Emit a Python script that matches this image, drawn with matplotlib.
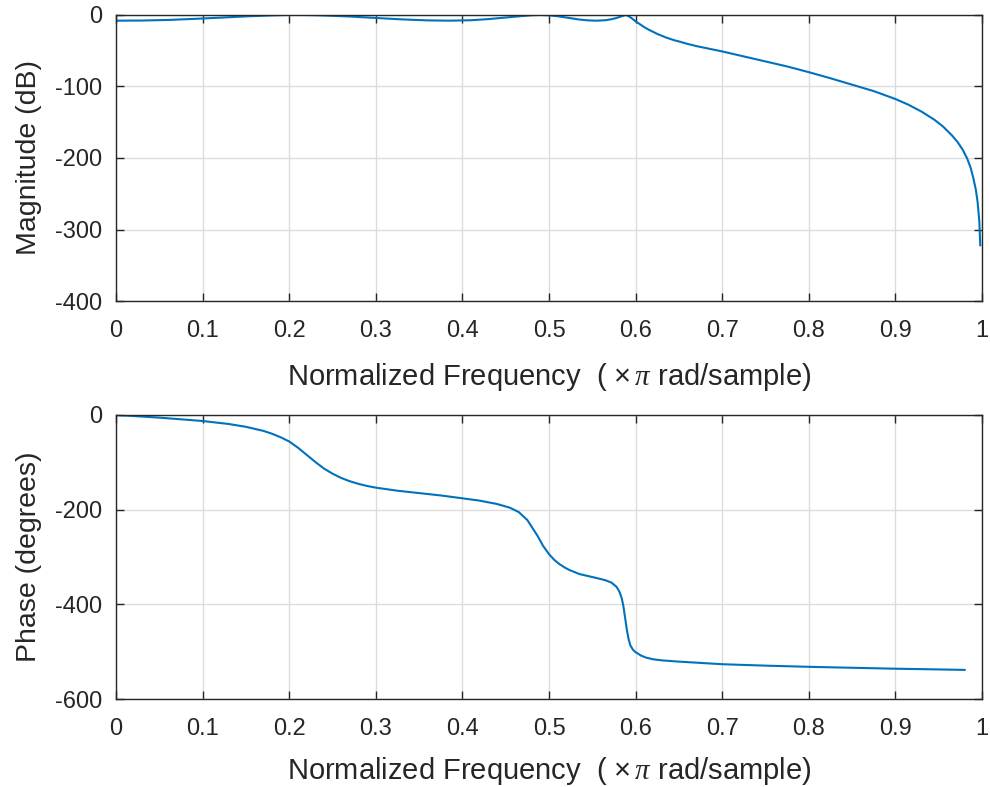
import matplotlib
matplotlib.use("Agg")
import matplotlib.pyplot as plt
import numpy as np

# magnitude response (x in units of pi rad/sample)
mag_freq = [0.00, 0.03, 0.06, 0.09, 0.12, 0.15, 0.18, 0.195, 0.21, 0.225,
            0.24, 0.27, 0.30, 0.33, 0.36, 0.385, 0.41, 0.43, 0.45, 0.47,
            0.48, 0.49, 0.50, 0.51, 0.52, 0.535, 0.545, 0.555, 0.565, 0.572,
            0.578, 0.583, 0.587, 0.589, 0.592, 0.596, 0.60, 0.605, 0.61, 0.615,
            0.62, 0.625, 0.63, 0.635, 0.64, 0.645, 0.65, 0.66, 0.67, 0.68,
            0.69, 0.70, 0.725, 0.75, 0.775, 0.80, 0.825, 0.85, 0.875, 0.90,
            0.915, 0.93, 0.945, 0.955, 0.965, 0.972, 0.978, 0.983, 0.987, 0.99,
            0.993, 0.995, 0.997, 0.998]
mag_db = [-8.0, -7.8, -7.0, -5.5, -3.8, -2.0, -0.6, -0.1, 0.0, -0.2,
          -0.7, -2.2, -4.2, -6.2, -7.6, -8.0, -7.4, -5.8, -3.6, -1.4,
          -0.4, 0.0, -0.5, -1.8, -3.6, -6.4, -7.6, -8.0, -7.4, -6.0,
          -4.2, -2.2, -0.6, 0.0, -1.8, -5.0, -9.0, -13.0, -17.0, -20.5,
          -23.5, -26.5, -29.0, -31.5, -33.5, -35.5, -37.0, -40.5, -43.5, -46.0,
          -48.5, -51.0, -58.0, -65.0, -72.0, -80.0, -88.5, -97.5, -106.5, -117.5,
          -125.5, -135.0, -146.5, -156.0, -168.0, -178.0, -189.0, -201.0, -214.0, -228.0,
          -245.0, -262.0, -290.0, -322.0]

# unwrapped phase, degrees
ph_freq = [0.00, 0.05, 0.10, 0.13, 0.15, 0.17, 0.18, 0.19, 0.20, 0.21,
           0.22, 0.23, 0.24, 0.25, 0.26, 0.27, 0.28, 0.29, 0.30, 0.325,
           0.35, 0.375, 0.40, 0.42, 0.44, 0.455, 0.465, 0.475, 0.481, 0.487,
           0.493, 0.50, 0.506, 0.512, 0.518, 0.523, 0.535, 0.554, 0.565, 0.572,
           0.578, 0.581, 0.584, 0.586, 0.588, 0.590, 0.592, 0.594, 0.597, 0.600,
           0.606, 0.612, 0.62, 0.631, 0.65, 0.70, 0.75, 0.80, 0.85, 0.90,
           0.95, 0.98]
ph_deg = [0.0, -5.6, -12.7, -19.0, -25.0, -33.5, -39.5, -47.0, -56.0, -69.0,
          -84.0, -99.0, -113.0, -124.0, -133.0, -140.0, -145.5, -150.0, -153.5, -160.0,
          -165.0, -170.0, -176.0, -181.0, -188.0, -196.0, -205.0, -222.0, -239.0, -256.0,
          -276.0, -294.0, -306.0, -315.0, -322.0, -327.0, -336.0, -344.0, -349.0, -354.0,
          -363.0, -372.0, -387.0, -405.0, -430.0, -455.0, -474.0, -487.0, -496.0, -501.0,
          -508.0, -512.5, -516.0, -518.5, -521.0, -526.5, -529.5, -532.0, -534.0, -536.0,
          -537.5, -538.5]

x_ticks = [0, 0.1, 0.2, 0.3, 0.4, 0.5, 0.6, 0.7, 0.8, 0.9, 1]
x_ticklabels = ["0", "0.1", "0.2", "0.3", "0.4", "0.5", "0.6", "0.7", "0.8", "0.9", "1"]
mag_ticks = [0, -100, -200, -300, -400]
ph_ticks = [0, -200, -400, -600]

line_color = "#0072BD"
dark = "#262626"
plt.rcParams["font.family"] = ["Liberation Sans", "DejaVu Sans"]
plt.rcParams["mathtext.fontset"] = "custom"
plt.rcParams["mathtext.rm"] = "Liberation Sans"
plt.rcParams["mathtext.it"] = "Liberation Serif:italic"

fig = plt.figure(figsize=(9.9, 7.87), dpi=100)
ax1 = fig.add_axes([0.1172, 0.6175, 0.8747, 0.3635])
ax2 = fig.add_axes([0.1172, 0.1118, 0.8747, 0.3609])

xlabel = "Normalized Frequency  ($\\,\\times\\mathit{\\pi}$ rad/sample)"


def style(ax, yticks, ylim):
    ax.set_xlim(0, 1)
    ax.set_ylim(*ylim)
    ax.set_xticks(x_ticks)
    ax.set_xticklabels(x_ticklabels)
    ax.set_yticks(yticks)
    ax.set_yticklabels([str(v) for v in yticks])
    ax.grid(True, color="#DCDCDC", linewidth=1.0)
    ax.set_axisbelow(True)
    ax.tick_params(direction="in", length=6, width=1.0, colors=dark,
                   labelsize=17, top=True, right=True)
    ax.tick_params(axis="x", pad=14)
    ax.tick_params(axis="y", pad=10)
    for s in ax.spines.values():
        s.set_color(dark)
        s.set_linewidth(1.0)
    ax.set_xlabel(xlabel, fontsize=21, color=dark)


ax1.plot(mag_freq, mag_db, color=line_color, linewidth=1.5)
style(ax1, mag_ticks, (-400, 0))
ax1.set_ylabel("Magnitude (dB)", fontsize=20.5, color=dark)
ax1.xaxis.set_label_coords(0.5, -0.21)
ax1.yaxis.set_label_coords(-0.085, 0.5)

ax2.plot(ph_freq, ph_deg, color=line_color, linewidth=1.5)
style(ax2, ph_ticks, (-600, 0))
ax2.set_ylabel("Phase (degrees)", fontsize=20.5, color=dark)
ax2.xaxis.set_label_coords(0.5, -0.198)
ax2.yaxis.set_label_coords(-0.085, 0.5)

fig.savefig("out.png", dpi=100)
